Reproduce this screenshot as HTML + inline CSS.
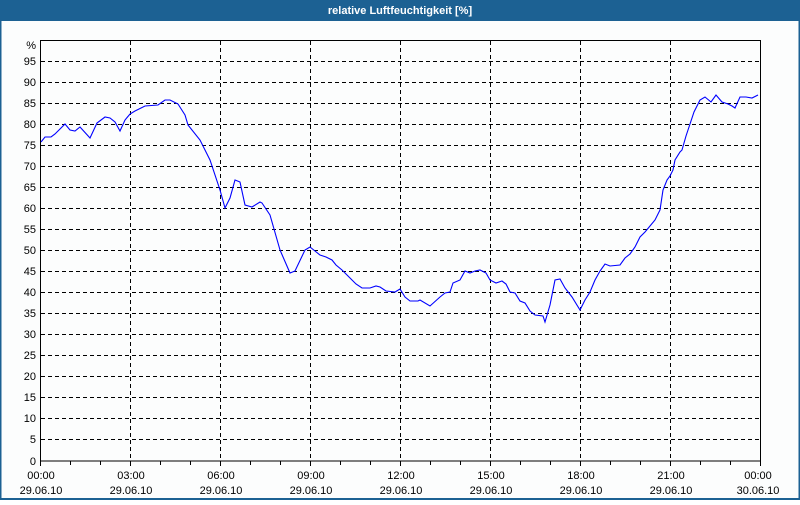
<!DOCTYPE html>
<html><head><meta charset="utf-8"><style>
html,body{margin:0;padding:0;background:#fff}
body{width:800px;height:500px;overflow:hidden;font-family:"Liberation Sans",sans-serif}
</style></head><body>
<svg width="800" height="500" xmlns="http://www.w3.org/2000/svg" font-family="Liberation Sans, sans-serif" font-size="11">
<rect x="0" y="0" width="800" height="500" fill="#fcfdfd"/>
<rect x="0" y="0" width="800" height="20" fill="#1c6193"/>
<text x="400" y="14" fill="#fff" font-weight="bold" text-anchor="middle">relative Luftfeuchtigkeit [%]</text>
<rect x="0.5" y="20" width="799" height="479" fill="none" stroke="#1c6193" stroke-width="2"/>
<g stroke="#000" stroke-dasharray="4,3" stroke-width="1">
<path d="M41 61.5H760M41 82.5H760M41 103.5H760M41 124.5H760M41 145.5H760M41 166.5H760M41 187.5H760M41 208.5H760M41 229.5H760M41 250.5H760M41 271.5H760M41 292.5H760M41 313.5H760M41 334.5H760M41 355.5H760M41 376.5H760M41 397.5H760M41 418.5H760M41 439.5H760"/>
<path d="M130.5 41V461M220.5 41V461M310.5 41V461M400.5 41V461M490.5 41V461M580.5 41V461M670.5 41V461"/>
</g>
<rect x="40.5" y="40.5" width="720" height="420.5" fill="none" stroke="#000"/>
<g stroke="#000"><path d="M40.5 461V466M70.5 461V465M100.5 461V465M130.5 461V466M160.5 461V465M190.5 461V465M220.5 461V466M250.5 461V465M280.5 461V465M310.5 461V466M340.5 461V465M370.5 461V465M400.5 461V466M430.5 461V465M460.5 461V465M490.5 461V466M520.5 461V465M550.5 461V465M580.5 461V466M610.5 461V465M640.5 461V465M670.5 461V466M700.5 461V465M730.5 461V465M760.5 461V466"/></g>
<g text-anchor="end">
<text x="36" y="49">%</text>
<text x="36" y="65">95</text><text x="36" y="86">90</text><text x="36" y="107">85</text><text x="36" y="128">80</text><text x="36" y="149">75</text><text x="36" y="170">70</text><text x="36" y="191">65</text><text x="36" y="212">60</text><text x="36" y="233">55</text><text x="36" y="254">50</text><text x="36" y="275">45</text><text x="36" y="296">40</text><text x="36" y="317">35</text><text x="36" y="338">30</text><text x="36" y="359">25</text><text x="36" y="380">20</text><text x="36" y="401">15</text><text x="36" y="422">10</text><text x="36" y="443">5</text><text x="36" y="465">0</text>
</g>
<g text-anchor="middle">
<text x="41" y="479">00:00</text><text x="41" y="494">29.06.10</text>
<text x="131" y="479">03:00</text><text x="131" y="494">29.06.10</text>
<text x="221" y="479">06:00</text><text x="221" y="494">29.06.10</text>
<text x="311" y="479">09:00</text><text x="311" y="494">29.06.10</text>
<text x="401" y="479">12:00</text><text x="401" y="494">29.06.10</text>
<text x="491" y="479">15:00</text><text x="491" y="494">29.06.10</text>
<text x="581" y="479">18:00</text><text x="581" y="494">29.06.10</text>
<text x="671" y="479">21:00</text><text x="671" y="494">29.06.10</text>
<text x="758" y="479">00:00</text><text x="758" y="494">30.06.10</text>
</g>
<polyline fill="none" stroke="#0000ff" stroke-width="1.1" points="41,142 45,137 51,137 55,134 65,124 70,130 75,131 80,127 90,138 97,123 105,117 110,118 115,122 120,131 125,120 130,114 135,111 145,106 158,105 165,100 170,100 178,104 185,115 188,125 200,140 210,160 220,190 225,208 230,198 235,180 240,182 245,205 252,207 260,202 262,203 270,215 280,250 290,273 295,271 305,250 310,247 320,255 326,257 332,260 336,265 342,270 350,278 356,284 362,288 370,288 376,286 380,287 386,291 395,292 400,289 405,297 410,301 418,301 420,300 430,306 440,297 445,293 450,292 453,283 460,280 465,271 470,273 475,271 480,270 486,273 490,280 496,283 502,281 506,284 510,292 515,293 520,301 525,303 530,311 535,315 543,316 545,322 550,305 555,280 560,279 565,288 572,297 580,310 585,300 590,292 595,280 600,271 605,264 610,266 620,265 625,258 630,254 635,247 640,237 645,232 650,226 655,220 660,210 663,190 667,180 670,176 673,170 675,160 680,152 682,150 686,136 688,130 694,112 700,100 705,97 711,102 716,95 722,102 728,104 732,106 735,108 740,97 746,97 752,98 758,95"/>
</svg>
</body></html>
